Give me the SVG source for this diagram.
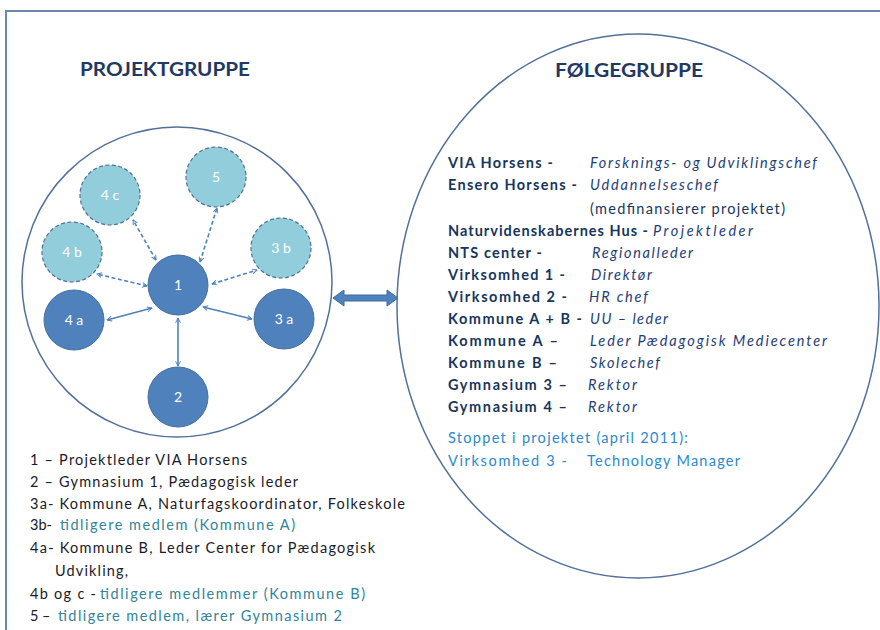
<svg xmlns="http://www.w3.org/2000/svg" width="880" height="630" viewBox="0 0 880 630">
<style>
text{font-family:Lato,"Liberation Sans",sans-serif;}
.frame{fill:none;stroke:#6a87ad;stroke-width:2;}
.group{fill:none;stroke:#52709a;stroke-width:1.5;}
.dark circle{fill:#4f81bd;stroke:#44709f;stroke-width:1;}
.light circle{fill:#92cddc;stroke:#4f6f95;stroke-width:1.2;stroke-dasharray:4 2.5;}
.lbl{fill:#fff;font-size:14px;text-anchor:middle;}
.conn{stroke:#4f81bd;stroke-width:1.6;fill:none;marker-start:url(#ah);marker-end:url(#ah);}
.dash{stroke-dasharray:4 2.5;}
.title{font-size:18px;font-weight:bold;fill:#1f3864;}
.leg{font-size:14.5px;fill:#1a1a2a;}
.teal{fill:#31849b;}
.org{font-size:14.5px;font-weight:bold;fill:#17365d;}
.role{font-size:14.5px;font-style:italic;fill:#1f3e78;}
.blue{font-size:14.5px;fill:#2a88cf;}
</style>
<defs>
<marker id="ah" viewBox="0 0 10 10" refX="9" refY="5" markerWidth="6" markerHeight="6" orient="auto-start-reverse" markerUnits="userSpaceOnUse">
<path d="M1,1 L9,5 L1,9" fill="none" stroke="#4f81bd" stroke-width="1.6"/>
</marker>
</defs>
<rect x="0" y="0" width="880" height="630" fill="#fff"/>
<path class="frame" d="M6,640 L6,11 L890,11"/>
<text class="title" x="80" y="76" textLength="170" lengthAdjust="spacingAndGlyphs">PROJEKTGRUPPE</text>
<text class="title" x="555" y="77" textLength="148" lengthAdjust="spacingAndGlyphs">FØLGEGRUPPE</text>
<g id="projektgruppe-circle"><circle class="group" cx="177" cy="282" r="155"/></g>
<g id="folgegruppe-ellipse"><ellipse class="group" cx="638" cy="306" rx="241" ry="272"/></g>
<g id="connectors">
<line class="conn" x1="178" y1="318" x2="178" y2="366"/>
<line class="conn" x1="152" y1="308" x2="107" y2="320"/>
<line class="conn" x1="203" y1="307" x2="252" y2="319"/>
<line class="conn dash" x1="147" y1="286" x2="97" y2="274"/>
<line class="conn dash" x1="212" y1="284" x2="257" y2="270"/>
<line class="conn dash" x1="156" y1="260" x2="133" y2="220"/>
<line class="conn dash" x1="200" y1="262" x2="217" y2="208"/>
<path d="M333,298 L344,290 L344,295 L387,295 L387,290 L398,298 L387,306 L387,301 L344,301 L344,306 Z" fill="#4f81bd" stroke="#3d6a9e" stroke-width="1"/>
</g>
<g id="n1" class="dark"><circle cx="178" cy="285" r="30"/><text class="lbl" x="178" y="290">1</text></g>
<g id="n2" class="dark"><circle cx="178" cy="397" r="30"/><text class="lbl" x="178" y="402">2</text></g>
<g id="n3a" class="dark"><circle cx="284" cy="319" r="30"/><text class="lbl" x="284" y="324">3 a</text></g>
<g id="n4a" class="dark"><circle cx="74" cy="320" r="30"/><text class="lbl" x="74" y="325">4 a</text></g>
<g id="n3b" class="light"><circle cx="281" cy="248" r="30"/><text class="lbl" x="281" y="253">3 b</text></g>
<g id="n4b" class="light"><circle cx="72" cy="252" r="30"/><text class="lbl" x="72" y="257">4 b</text></g>
<g id="n4c" class="light"><circle cx="110" cy="195" r="30"/><text class="lbl" x="110" y="200">4 c</text></g>
<g id="n5" class="light"><circle cx="216" cy="177" r="30"/><text class="lbl" x="216" y="182">5</text></g>
<g id="legend">
<text class="leg" x="30" y="465" textLength="217" lengthAdjust="spacing">1 – Projektleder VIA Horsens</text>
<text class="leg" x="30" y="487" textLength="268" lengthAdjust="spacing">2 – Gymnasium 1, Pædagogisk leder</text>
<text class="leg" x="30" y="509" textLength="375" lengthAdjust="spacing">3a- Kommune A, Naturfagskoordinator, Folkeskole</text>
<text class="leg" x="30" y="530">3b-</text>
<text class="leg teal" x="60" y="530" textLength="235" lengthAdjust="spacing">tidligere medlem (Kommune A)</text>
<text class="leg" x="30" y="553" textLength="345" lengthAdjust="spacing">4a- Kommune B, Leder Center for Pædagogisk</text>
<text class="leg" x="55" y="576" textLength="73" lengthAdjust="spacing">Udvikling,</text>
<text class="leg" x="30" y="599" textLength="66" lengthAdjust="spacing">4b og c -</text>
<text class="leg teal" x="100" y="599" textLength="265" lengthAdjust="spacing">tidligere medlemmer (Kommune B)</text>
<text class="leg" x="30" y="621">5 –</text>
<text class="leg teal" x="58" y="621" textLength="284" lengthAdjust="spacing">tidligere medlem, lærer Gymnasium 2</text>
</g>
<g id="members">
<text class="org" x="448" y="168" textLength="105" lengthAdjust="spacing">VIA Horsens -</text>
<text class="role" x="590" y="168" textLength="227" lengthAdjust="spacing">Forsknings- og Udviklingschef</text>
<text class="org" x="448" y="190" textLength="129" lengthAdjust="spacing">Ensero Horsens -</text>
<text class="role" x="590" y="190" textLength="128" lengthAdjust="spacing">Uddannelseschef</text>
<text class="leg" x="590" y="214" textLength="195" lengthAdjust="spacing" style="fill:#17365d">(medfinansierer projektet)</text>
<text class="org" x="448" y="236" textLength="200" lengthAdjust="spacing">Naturvidenskabernes Hus -</text>
<text class="role" x="653" y="236" textLength="100" lengthAdjust="spacing">Projektleder</text>
<text class="org" x="448" y="258" textLength="94" lengthAdjust="spacing">NTS center -</text>
<text class="role" x="592" y="258" textLength="101" lengthAdjust="spacing">Regionalleder</text>
<text class="org" x="448" y="280" textLength="117" lengthAdjust="spacing">Virksomhed 1 -</text>
<text class="role" x="591" y="280" textLength="61" lengthAdjust="spacing">Direktør</text>
<text class="org" x="448" y="302" textLength="119" lengthAdjust="spacing">Virksomhed 2 -</text>
<text class="role" x="589" y="302" textLength="59" lengthAdjust="spacing">HR chef</text>
<text class="org" x="448" y="324" textLength="134" lengthAdjust="spacing">Kommune A + B -</text>
<text class="role" x="590" y="324" textLength="78" lengthAdjust="spacing">UU – leder</text>
<text class="org" x="448" y="346" textLength="110" lengthAdjust="spacing">Kommune A –</text>
<text class="role" x="590" y="346" textLength="237" lengthAdjust="spacing">Leder Pædagogisk Mediecenter</text>
<text class="org" x="448" y="368" textLength="109" lengthAdjust="spacing">Kommune B –</text>
<text class="role" x="590" y="368" textLength="70" lengthAdjust="spacing">Skolechef</text>
<text class="org" x="448" y="390" textLength="119" lengthAdjust="spacing">Gymnasium 3 –</text>
<text class="role" x="588" y="390" textLength="49" lengthAdjust="spacing">Rektor</text>
<text class="org" x="448" y="412" textLength="119" lengthAdjust="spacing">Gymnasium 4 –</text>
<text class="role" x="588" y="412" textLength="49" lengthAdjust="spacing">Rektor</text>
<text class="blue" x="448" y="443" textLength="240" lengthAdjust="spacing">Stoppet i projektet (april 2011):</text>
<text class="blue" x="448" y="466" textLength="119" lengthAdjust="spacing">Virksomhed 3 -</text>
<text class="blue" x="587" y="466" textLength="153" lengthAdjust="spacing">Technology Manager</text>
</g>
</svg>
